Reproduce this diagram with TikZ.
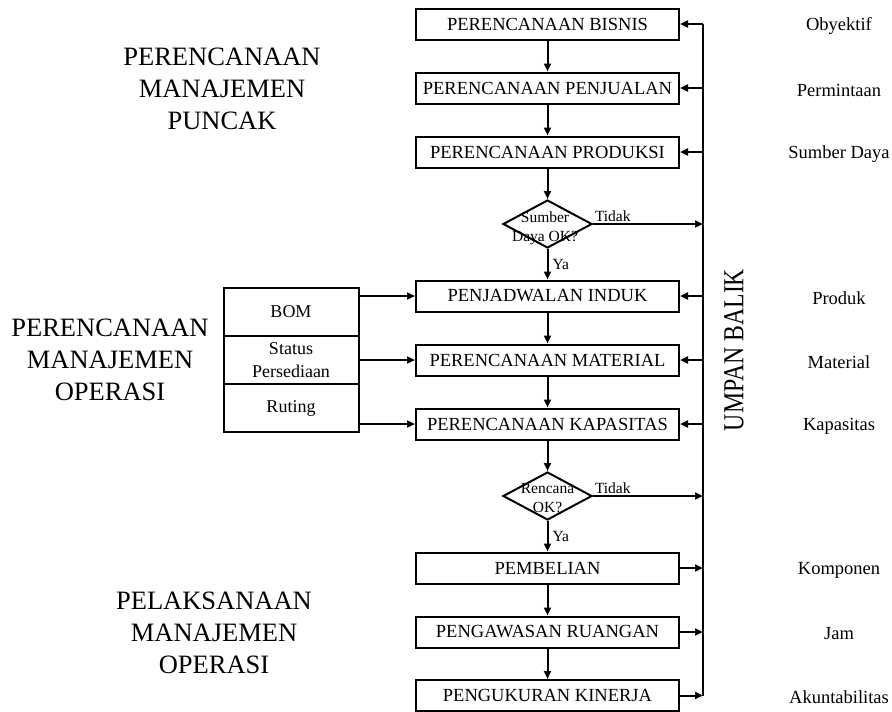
\documentclass[tikz,border=0pt]{standalone}
\usepackage{fontspec}
\setmainfont{Liberation Serif}
\usetikzlibrary{arrows.meta,shapes.geometric}

\begin{document}
\begin{tikzpicture}[x=1pt,y=-1pt,
  box/.style={draw,line width=2pt,minimum width=263pt,minimum height=31pt,inner sep=0pt,font=\fontsize{18.5}{22}\selectfont},
  side/.style={draw,line width=2pt,outer sep=0pt,minimum width=135pt,minimum height=48pt,inner sep=0pt,align=center,font=\fontsize{18}{23}\selectfont},
  dec/.style={diamond,draw,line width=2pt,minimum width=89pt,minimum height=48pt,inner sep=0pt},
  dtext/.style={align=center,font=\fontsize{15.5}{19}\selectfont},
  small/.style={font=\fontsize{15.5}{19}\selectfont},
  res/.style={font=\fontsize{18.5}{22}\selectfont},
  level/.style={align=center,font=\fontsize{26.5}{32}\selectfont},
  arr/.style={line width=2pt,-{Triangle[length=8pt,width=7pt]}},
  fb/.style={line width=2pt}]
  \useasboundingbox (0,0) rectangle (892,712);

  \node[box] (bis)   at (547.5,24)    {PERENCANAAN BISNIS};
  \node[box] (jual)  at (547.5,88)    {PERENCANAAN PENJUALAN};
  \node[box] (prod)  at (547.5,152)   {PERENCANAAN PRODUKSI};
  \node[dec] (sd)    at (547.5,224)   {};
  \node[dtext] (sdtext) at (545,228)  {Sumber\\Daya OK?};
  \node[box] (induk) at (547.5,296)   {PENJADWALAN INDUK};
  \node[box] (mat)   at (547.5,360)   {PERENCANAAN MATERIAL};
  \node[box] (kap)   at (547.5,424)   {PERENCANAAN KAPASITAS};
  \node[dec] (rc)    at (547.5,496)   {};
  \node[dtext] (rctext) at (547.5,498) {Rencana\\OK?};
  \node[box] (beli)  at (547.5,568)   {PEMBELIAN};
  \node[box] (awas)  at (547.5,632)   {PENGAWASAN RUANGAN};
  \node[box] (ukur)  at (547.5,695.5) {PENGUKURAN KINERJA};

  \node[side] (bom)  at (291,312) {BOM};
  \node[side] (stat) at (291,360) {Status\\Persediaan};
  \node[side] (rut)  at (291,408) {Ruting};

  \node[level] (puncak)  at (222,89)  {PERENCANAAN\\MANAJEMEN\\PUNCAK};
  \node[level] (operasi) at (110,360) {PERENCANAAN\\MANAJEMEN\\OPERASI};
  \node[level] (laksana) at (214,633) {PELAKSANAAN\\MANAJEMEN\\OPERASI};

  \node[rotate=90,font=\fontsize{29}{34}\selectfont] (umpan) at (734,350) {\scalebox{0.82}[1]{UMPAN BALIK}};

  \node[res] (obyektif) at (839,26)  {Obyektif};
  \node[res] (minta)    at (839,90)  {Permintaan};
  \node[res] (daya)     at (839,154) {Sumber Daya};
  \node[res] (produk)   at (839,298) {Produk};
  \node[res] (material) at (839,362) {Material};
  \node[res] (kapasitas) at (839,426) {Kapasitas};
  \node[res] (komponen) at (839,570) {Komponen};
  \node[res] (jam)      at (839,634) {Jam};
  \node[res] (akun)     at (839,697) {Akuntabilitas};

  \coordinate (fbtop) at (703,24);
  \coordinate (fbbot) at (703,695.5);
  \draw[fb] (fbtop) -- (fbbot);

  \draw[arr] (bis) -- (jual);
  \draw[arr] (jual) -- (prod);
  \draw[arr] (prod) -- (sd);
  \draw[arr] (sd) -- node[small,right,inner sep=4pt] (ya1) {Ya} (induk);
  \draw[arr] (induk) -- (mat);
  \draw[arr] (mat) -- (kap);
  \draw[arr] (kap) -- (rc);
  \draw[arr] (rc) -- node[small,right,inner sep=4pt] (ya2) {Ya} (beli);
  \draw[arr] (beli) -- (awas);
  \draw[arr] (awas) -- (ukur);

  \draw[arr] (sd.east) -- node[small,pos=0,anchor=south west,inner sep=1pt] (tidak1) {Tidak} (sd.east -| fbtop);
  \draw[arr] (rc.east) -- node[small,pos=0,anchor=south west,inner sep=1pt] (tidak2) {Tidak} (rc.east -| fbtop);

  \draw[arr] (fbtop) -- (bis);
  \draw[arr] (jual.east -| fbtop) -- (jual);
  \draw[arr] (prod.east -| fbtop) -- (prod);
  \draw[arr] (induk.east -| fbtop) -- (induk);
  \draw[arr] (mat.east -| fbtop) -- (mat);
  \draw[arr] (kap.east -| fbtop) -- (kap);
  \draw[arr] (beli) -- (beli.east -| fbtop);
  \draw[arr] (awas) -- (awas.east -| fbtop);
  \draw[arr] (ukur) -- (fbbot);

  \draw[arr] (bom.east |- induk) -- (induk);
  \draw[arr] (stat) -- (mat);
  \draw[arr] (rut.east |- kap) -- (kap);
\end{tikzpicture}
\end{document}
